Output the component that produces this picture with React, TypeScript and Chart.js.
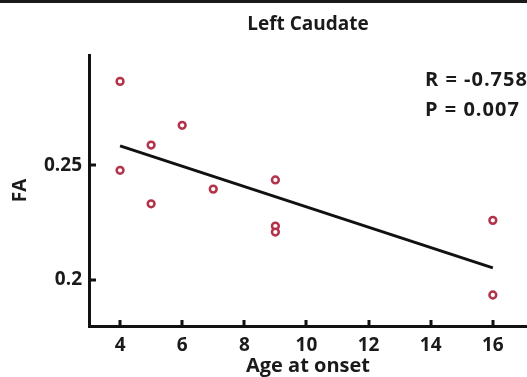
import React, { useEffect, useRef } from "react";
import { Chart, registerables } from "chart.js";

Chart.register(...registerables);

const ages = [4, 4, 5, 5, 6, 7, 9, 9, 9, 16, 16];
const faValues = [0.2865, 0.2478, 0.2588, 0.2332, 0.2674, 0.2396, 0.2436, 0.2235, 0.2209, 0.226, 0.1935];
const fitAges = [4, 16];
const fitFA = [0.2584, 0.2053];
const xTicks = [4, 6, 8, 10, 12, 14, 16];
const yTicks = [0.2, 0.25];
const yTickLabels = ["0.2", "0.25"];
const chartTitle = "Left Caudate";
const statLines = ["R = -0.758", "P = 0.007"];
const xTitle = "Age at onset";
const yTitle = "FA";

const FONT = "'Open Sans', 'DejaVu Sans', sans-serif";

const decorPlugin = {
  id: "decor",
  afterDraw(chart: any) {
    const ctx = chart.ctx;
    const area = chart.chartArea;
    const xs = chart.scales.x;
    const ys = chart.scales.y;
    ctx.save();
    ctx.fillStyle = "#1a1a1a";
    ctx.fillRect(0, 0, chart.width, 3);
    ctx.strokeStyle = "#111";
    ctx.lineWidth = 3;
    ctx.beginPath();
    for (const v of xTicks) {
      const px = Math.round(xs.getPixelForValue(v));
      ctx.moveTo(px, area.bottom);
      ctx.lineTo(px, area.bottom - 6);
    }
    for (const v of yTicks) {
      const py = Math.round(ys.getPixelForValue(v));
      ctx.moveTo(area.left, py);
      ctx.lineTo(area.left + 7, py);
    }
    ctx.stroke();
    ctx.fillStyle = "#1a1a1a";
    ctx.font = `bold 19px ${FONT}`;
    ctx.textAlign = "center";
    ctx.textBaseline = "middle";
    ctx.fillText(chartTitle, (area.left + area.right) / 2, 25);
    ctx.textAlign = "left";
    ctx.font = `bold 20px ${FONT}`;
    try {
      (ctx as any).letterSpacing = "1px";
    } catch (e) {}
    ctx.fillText(statLines[0], 425, 80);
    ctx.fillText(statLines[1], 425, 110);
    ctx.restore();
  },
};

export default function App() {
  const ref = useRef<HTMLCanvasElement | null>(null);
  useEffect(() => {
    document.body.style.margin = "0";
    const canvas = ref.current;
    if (!canvas) return;
    const chart = new Chart(canvas, {
      type: "scatter",
      data: {
        datasets: [
          {
            type: "scatter",
            data: ages.map((a, i) => ({ x: a, y: faValues[i] })),
            pointStyle: "circle",
            pointRadius: 3.4,
            pointBorderWidth: 2.5,
            borderColor: "#b2334a",
            backgroundColor: "#ffffff",
            pointHoverRadius: 3.4,
          },
          {
            type: "line",
            data: fitAges.map((a, i) => ({ x: a, y: fitFA[i] })),
            borderColor: "#111111",
            borderWidth: 3,
            pointRadius: 0,
            fill: false,
          } as any,
        ],
      },
      options: {
        animation: false,
        responsive: false,
        maintainAspectRatio: false,
        layout: { autoPadding: false, padding: { top: 55, left: 0, right: 0, bottom: 0 } },
        plugins: {
          legend: { display: false },
          tooltip: { enabled: false },
          title: { display: false },
        },
        scales: {
          x: {
            type: "linear",
            min: 3,
            max: 17.1,
            afterBuildTicks: (s: any) => {
              s.ticks = xTicks.map((v) => ({ value: v }));
            },
            afterFit: (s: any) => {
              s.height = 51;
              s.paddingLeft = 0;
              s.paddingRight = 0;
            },
            grid: { display: false, drawTicks: false },
            border: { display: true, color: "#111", width: 3 },
            ticks: {
              color: "#1a1a1a",
              font: { family: FONT, size: 19, weight: "bold" },
              padding: 8,
              maxRotation: 0,
              autoSkip: false,
            },
            title: {
              display: true,
              text: xTitle,
              color: "#1a1a1a",
              font: { family: FONT, size: 20, weight: "bold", lineHeight: 1 },
              padding: { top: 0, bottom: 1 },
            },
          },
          y: {
            type: "linear",
            min: 0.18,
            max: 0.298,
            afterBuildTicks: (s: any) => {
              s.ticks = yTicks.map((v) => ({ value: v }));
            },
            afterFit: (s: any) => {
              s.width = 89;
              s.paddingTop = 0;
              s.paddingBottom = 0;
            },
            grid: { display: false, drawTicks: false },
            border: { display: true, color: "#111", width: 3 },
            ticks: {
              color: "#1a1a1a",
              font: { family: FONT, size: 19, weight: "bold" },
              padding: 7,
              autoSkip: false,
              callback: (v: any) => {
                const i = yTicks.indexOf(Number(v));
                return i >= 0 ? yTickLabels[i] : "";
              },
            },
            title: {
              display: true,
              text: yTitle,
              color: "#1a1a1a",
              font: { family: FONT, size: 19, weight: "bold", lineHeight: 1.2 },
              padding: { top: 9, bottom: 0 },
            },
          },
        },
      },
      plugins: [decorPlugin],
    });
    return () => chart.destroy();
  }, []);
  return (
    <div style={{ width: 527, height: 377, background: "#fff" }}>
      <canvas ref={ref} width={527} height={377} style={{ display: "block" }} />
    </div>
  );
}
